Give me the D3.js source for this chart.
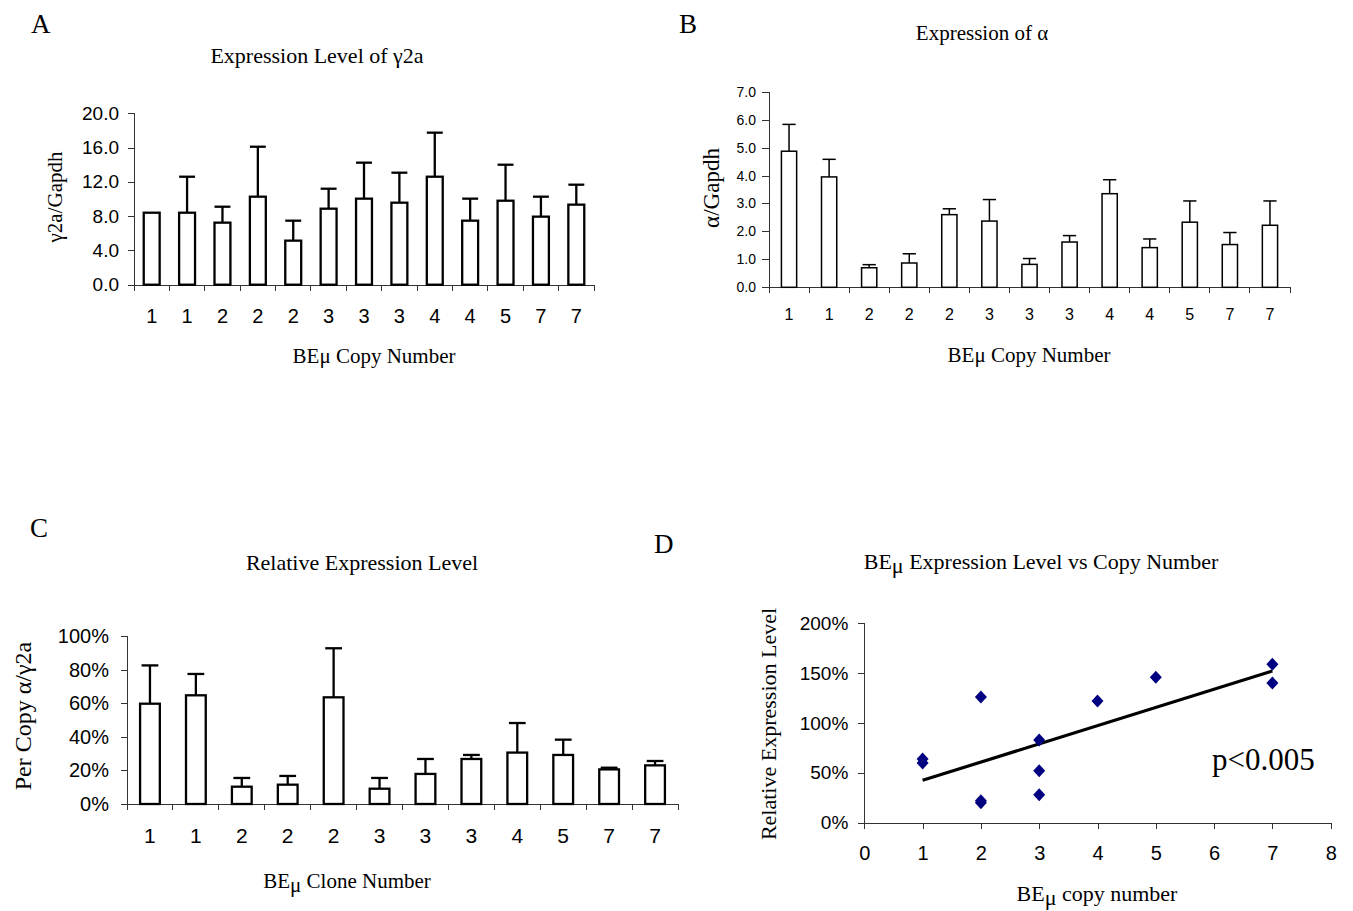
<!DOCTYPE html>
<html>
<head>
<meta charset="utf-8">
<script src="https://cdn.jsdelivr.net/npm/d3@7"></script>
<style>
  body { margin: 0; background: #fff; }
  svg { display: block; }
  .serif { font-family: "Liberation Serif", "Times New Roman", serif; fill: #000; }
  .axis text { font-family: "Liberation Sans", Arial, sans-serif; fill: #000; }
  .axis path, .axis line { stroke: #333; stroke-width: 1; shape-rendering: crispEdges; }
</style>
</head>
<body>
<script>
// panel A - gamma2a / Gapdh
var copyA = ["1", "1", "2", "2", "2", "3", "3", "3", "4", "4", "5", "7", "7"];
var gammaMean = [8.4, 8.4, 7.24, 10.27, 5.14, 8.87, 10.04, 9.57, 12.6, 7.47, 9.8, 7.94, 9.34];
var gammaSD   = [0, 4.2, 1.86, 5.83, 2.33, 2.33, 4.2, 3.5, 5.14, 2.57, 4.2, 2.33, 2.33];
var yTicksA = [0, 4, 8, 12, 16, 20];

// panel B - alpha / Gapdh
var alphaMean = [4.87, 3.95, 0.70, 0.87, 2.60, 2.37, 0.82, 1.62, 3.35, 1.42, 2.33, 1.53, 2.22];
var alphaSD   = [0.96, 0.63, 0.11, 0.33, 0.21, 0.77, 0.21, 0.23, 0.50, 0.31, 0.76, 0.43, 0.87];
var yTicksB = [0, 1, 2, 3, 4, 5, 6, 7];

// panel C - per copy alpha / gamma2a (%)
var copyC = ["1", "1", "2", "2", "2", "3", "3", "3", "4", "5", "7", "7"];
var perCopyMean = [59.7, 64.7, 10.3, 11.5, 63.5, 9.1, 17.9, 26.8, 30.6, 29.2, 20.6, 23.0];
var perCopySD   = [22.8, 12.7, 5.2, 5.2, 29.2, 6.4, 8.9, 2.4, 17.6, 9.1, 1.0, 2.6];
var yTicksC = [0, 20, 40, 60, 80, 100];

// panel D - relative expression vs copy number (%)
var copyD   = [1, 1, 2, 2, 2, 3, 3, 3, 4, 5, 7, 7];
var relExpr = [64, 60, 126, 22, 20, 83, 52, 28, 122, 146, 159, 140];
var yTicksD = [0, 50, 100, 150, 200];
var xTicksD = [0, 1, 2, 3, 4, 5, 6, 7, 8];

var svg = d3.select("body").append("svg")
    .attr("width", 1353)
    .attr("height", 911);

function addText(str, x, y, size, anchor) {
    return svg.append("text")
        .attr("class", "serif")
        .attr("x", x).attr("y", y)
        .attr("font-size", size)
        .attr("text-anchor", anchor || "middle")
        .text(str);
}

// text with a (maybe lowered) mu after "BE"
function addBEmu(rest, x, y, size, shift) {
    var t = svg.append("text")
        .attr("class", "serif")
        .attr("x", x).attr("y", y)
        .attr("font-size", size)
        .attr("text-anchor", "middle");
    t.append("tspan").text("BE");
    t.append("tspan").attr("dy", shift).text("\u03bc");
    t.append("tspan").attr("dy", -shift).text(rest);
}

function addYLabel(str, x, y, size) {
    svg.append("text")
        .attr("class", "serif")
        .attr("transform", "translate(" + x + "," + y + ") rotate(-90)")
        .attr("font-size", size)
        .attr("text-anchor", "middle")
        .text(str);
}

// generic bar chart with error bars (Excel style)
function barPanel(o) {
    var n = o.cats.length;
    var x = d3.scaleBand().domain(d3.range(n)).range(o.xr);
    var y = d3.scaleLinear().domain([0, o.ymax]).range(o.yr);
    var g = svg.append("g");

    var ya = g.append("g").attr("class", "axis")
        .attr("transform", "translate(" + o.xr[0] + ",0)")
        .call(d3.axisLeft(y).tickValues(o.yticks).tickSize(o.tick)
            .tickPadding(o.ypad).tickFormat(o.fmt));
    ya.selectAll("text").attr("font-size", o.yfont);

    var xa = g.append("g").attr("class", "axis")
        .attr("transform", "translate(0," + y(0) + ")")
        .call(d3.axisBottom(x).tickSize(0).tickPadding(o.xpad)
            .tickFormat(function (i) { return o.cats[i]; }));
    xa.selectAll("text").attr("font-size", o.xfont);

    // category separator ticks
    xa.selectAll("line.sep")
        .data(d3.range(n + 1))
        .enter().append("line")
        .attr("class", "sep")
        .attr("x1", function (i) { return i < n ? x(i) : o.xr[1]; })
        .attr("x2", function (i) { return i < n ? x(i) : o.xr[1]; })
        .attr("y1", 0).attr("y2", 6);

    var bw = x.bandwidth() * o.ratio;
    var cw = bw * o.cap;

    g.selectAll("rect.bar")
        .data(o.mean)
        .enter().append("rect")
        .attr("class", "bar")
        .attr("x", function (d, i) { return x(i) + (x.bandwidth() - bw) / 2; })
        .attr("y", function (d) { return y(d); })
        .attr("width", bw)
        .attr("height", function (d) { return y(0) - y(d); })
        .attr("fill", "#fff")
        .attr("stroke", "#000")
        .attr("stroke-width", o.sw);

    var err = g.selectAll("g.err")
        .data(o.mean.map(function (m, i) { return { i: i, m: m, s: o.sd[i] }; })
            .filter(function (d) { return d.s > 0; }))
        .enter().append("g")
        .attr("class", "err")
        .attr("stroke", "#000")
        .attr("stroke-width", o.sw);
    err.append("line")
        .attr("x1", function (d) { return x(d.i) + x.bandwidth() / 2; })
        .attr("x2", function (d) { return x(d.i) + x.bandwidth() / 2; })
        .attr("y1", function (d) { return y(d.m); })
        .attr("y2", function (d) { return y(d.m + d.s); });
    err.append("line")
        .attr("x1", function (d) { return x(d.i) + x.bandwidth() / 2 - cw / 2; })
        .attr("x2", function (d) { return x(d.i) + x.bandwidth() / 2 + cw / 2; })
        .attr("y1", function (d) { return y(d.m + d.s); })
        .attr("y2", function (d) { return y(d.m + d.s); });
}

// ---------- A ----------
addText("A", 31, 33, 27, "start");
addText("Expression Level of \u03b32a", 317, 63, 22);
addYLabel("\u03b32a/Gapdh", 62, 197, 21);
barPanel({
    cats: copyA, mean: gammaMean, sd: gammaSD,
    xr: [134, 594], yr: [284.7, 113.3], ymax: 20, yticks: yTicksA,
    fmt: d3.format(".1f"), tick: 6, ypad: 9, yfont: 19,
    xpad: 24, xfont: 20, ratio: 0.45, cap: 1.0, sw: 2.3
});
addBEmu(" Copy Number", 374, 363, 21, 0);

// ---------- B ----------
addText("B", 679, 33, 27, "start");
addText("Expression of \u03b1", 982, 40, 21);
addYLabel("\u03b1/Gapdh", 719, 188, 23);
barPanel({
    cats: copyA, mean: alphaMean, sd: alphaSD,
    xr: [769, 1290], yr: [287.3, 91.7], ymax: 7, yticks: yTicksB,
    fmt: d3.format(".1f"), tick: 7, ypad: 6, yfont: 14,
    xpad: 21, xfont: 16, ratio: 0.38, cap: 0.87, sw: 1.5
});
addBEmu(" Copy Number", 1029, 362, 21, 0);

// ---------- C ----------
addText("C", 30, 537, 27, "start");
addText("Relative Expression Level", 362, 570, 22);
addYLabel("Per Copy  \u03b1/\u03b32a", 31, 716, 24);
barPanel({
    cats: copyC, mean: perCopyMean, sd: perCopySD,
    xr: [127, 678], yr: [804, 636], ymax: 100, yticks: yTicksC,
    fmt: function (d) { return d + "%"; }, tick: 6, ypad: 12, yfont: 20,
    xpad: 24, xfont: 21, ratio: 0.43, cap: 0.85, sw: 2.3
});
addBEmu(" Clone Number", 347, 888, 21, 4);

// ---------- D ----------
addText("D", 654, 553, 27, "start");
addBEmu(" Expression Level vs Copy Number", 1041, 569, 22, 4);
addYLabel("Relative Expression Level", 776, 724, 22);

var xD = d3.scaleLinear().domain([0, 8]).range([864.3, 1330.7]);
var yD = d3.scaleLinear().domain([0, 200]).range([822.7, 623.3]);
var gD = svg.append("g");

var yaD = gD.append("g").attr("class", "axis")
    .attr("transform", "translate(" + xD(0) + ",0)")
    .call(d3.axisLeft(yD).tickValues(yTicksD).tickSize(6).tickPadding(10)
        .tickFormat(function (d) { return d + "%"; }));
yaD.selectAll("text").attr("font-size", 19);

var xaD = gD.append("g").attr("class", "axis")
    .attr("transform", "translate(0," + yD(0) + ")")
    .call(d3.axisBottom(xD).tickValues(xTicksD).tickSize(6).tickPadding(17));
xaD.selectAll("text").attr("font-size", 20);

addBEmu(" copy number", 1097, 901, 22, 4);

// least squares fit line
var mx = d3.mean(copyD), my = d3.mean(relExpr);
var sxy = d3.sum(copyD, function (c, i) { return (c - mx) * (relExpr[i] - my); });
var sxx = d3.sum(copyD, function (c) { return (c - mx) * (c - mx); });
var slope = sxy / sxx, icpt = my - slope * mx;
var xFit = d3.extent(copyD);
gD.append("line")
    .attr("x1", xD(xFit[0])).attr("y1", yD(icpt + slope * xFit[0]))
    .attr("x2", xD(xFit[1])).attr("y2", yD(icpt + slope * xFit[1]))
    .attr("stroke", "#000")
    .attr("stroke-width", 3.2);

gD.selectAll("path.pt")
    .data(copyD)
    .enter().append("path")
    .attr("class", "pt")
    .attr("d", "M0,-6.5L6,0L0,6.5L-6,0Z")
    .attr("transform", function (c, i) {
        return "translate(" + xD(c) + "," + yD(relExpr[i]) + ")";
    })
    .attr("fill", "#000080");

addText("p<0.005", 1212, 770, 31, "start");
</script>
</body>
</html>
